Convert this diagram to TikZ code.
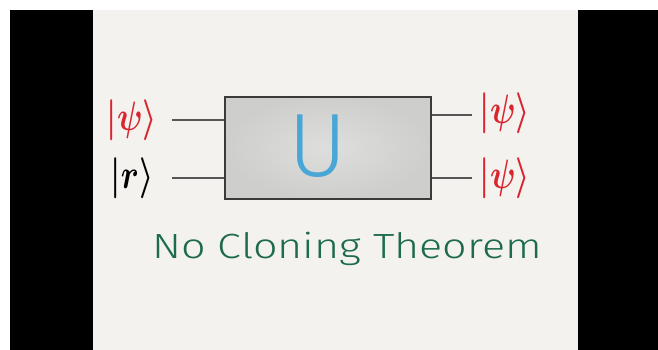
\documentclass[tikz,border=0pt]{standalone}
\usepackage{fontspec}
\usepackage{graphicx}
\newfontfamily\thinfont{Fira Sans}[UprightFont={* Light}]
\definecolor{panel}{HTML}{F3F2EF}
\definecolor{ketred}{HTML}{D9262E}
\definecolor{ublue}{HTML}{4AA6D6}
\definecolor{titlegreen}{HTML}{1E6B4B}
\definecolor{boxedge}{HTML}{3A3A3A}
\definecolor{wiregray}{HTML}{555555}
\newcommand{\bigket}[1]{\scalebox{1.3}[1.65]{\boldmath$|#1\rangle$}}
\tikzset{
  gate/.style={draw=boxedge, line width=2pt, inner color={rgb,255:red,222;green,222;blue,220}, outer color={rgb,255:red,206;green,206;blue,205}, inner sep=0pt},
  ket/.style={inner sep=0pt, font=\fontsize{24}{28}\selectfont},
  wire/.style={draw=wiregray, line width=1.4pt}
}
\begin{document}
\begin{tikzpicture}[x=1pt,y=-1pt]
\useasboundingbox (0,0) rectangle (658,350);
\fill[white] (0,0) rectangle (658,350);
\fill[black] (10,10) rectangle (658,350);
\fill[panel] (93,10) rectangle (578,350);
\node[gate, minimum width=206pt, minimum height=102pt] (U) at (328,148) {};
\node[inner sep=0pt, text=ublue, font=\thinfont\fontsize{90}{90}\selectfont] (Ulabel) at (318,146) {U};
\node[ket, text=ketred] (k1) at (132,120) {\bigket{\psi}};
\node[ket, text=black] (k2) at (132,178) {\bigket{r}};
\node[ket, text=ketred] (o1) at (505,113) {\bigket{\psi}};
\node[ket, text=ketred] (o2) at (505,178) {\bigket{\psi}};
\draw[wire] (172,0 |- k1.east) -- (U.west |- k1.east);
\draw[wire] (172,0 |- k2.east) -- (U.west |- k2.east);
\draw[wire] (U.east |- 0,115) -- (472,115);
\draw[wire] (U.east |- o2.west) -- (472,0 |- o2.west);
\node[inner sep=0pt, text=titlegreen, font=\thinfont\fontsize{35}{40}\selectfont] (title) at (347,249) {\scalebox{1.23}[1]{No Cloning Theorem}};
\end{tikzpicture}
\end{document}
